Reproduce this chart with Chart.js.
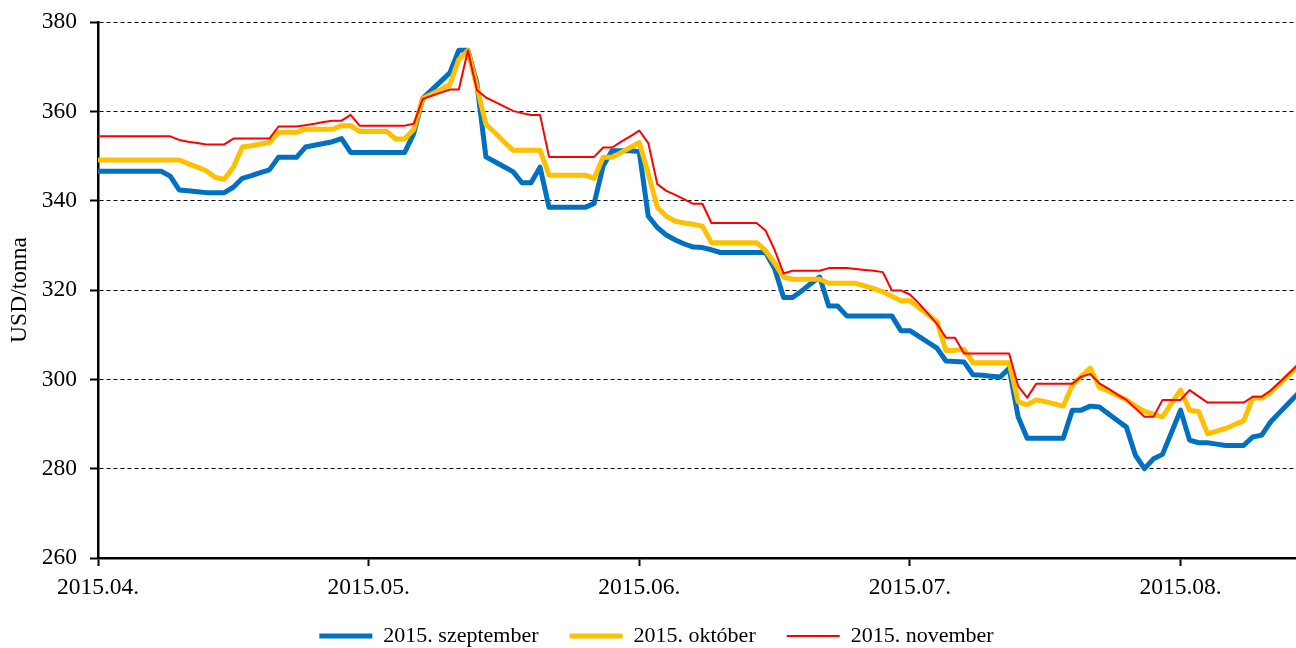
<!DOCTYPE html>
<html>
<head>
<meta charset="utf-8">
<script src="https://cdn.jsdelivr.net/npm/chart.js@4.4.1/dist/chart.umd.min.js"></script>
<style>
    html, body { margin: 0; padding: 0; background: #fff; }
    canvas { display: block; }
</style>
</head>
<body>
<canvas id="priceChart" width="1296" height="648"></canvas>
<script>
// month labels and the point index where each label sits
const monthLabels = ['2015.04.', '2015.05.', '2015.06.', '2015.07.', '2015.08.'];
const monthTicks = [0, 30, 60, 90, 120];

// USD/tonna, one value per point
const sep = [
    346.6, 346.6, 346.6, 346.6, 346.6, 346.6, 346.6, 346.6, 345.5, 342.4,
    342.2, 342.0, 341.8, 341.8, 341.8, 343.0, 345.0, 345.6, 346.3, 346.9,
    349.7, 349.7, 349.7, 352.0, 352.4, 352.8, 353.2, 353.9, 350.8, 350.8,
    350.8, 350.8, 350.8, 350.8, 350.8, 355.0, 362.9, 364.8, 366.7, 368.6,
    373.7, 373.7, 366.3, 349.8, 348.7, 347.6, 346.5, 344.0, 344.0, 347.5,
    338.5, 338.5, 338.5, 338.5, 338.5, 339.4, 347.8, 351.2, 351.2, 351.2,
    351.0, 336.5, 334.0, 332.3, 331.2, 330.3, 329.6, 329.5, 329.0, 328.4,
    328.4, 328.4, 328.4, 328.4, 328.4, 324.8, 318.3, 318.3, 319.8, 321.4,
    322.9, 316.4, 316.4, 314.2, 314.2, 314.2, 314.2, 314.2, 314.2, 310.9,
    310.9, 309.6, 308.3, 307.0, 304.1, 304.0, 303.9, 301.0, 300.9, 300.7,
    300.5, 302.5, 291.6, 286.8, 286.8, 286.8, 286.8, 286.8, 293.1, 293.1,
    294.0, 293.8, 292.3, 290.8, 289.3, 283.0, 280.0, 282.2, 283.2, 288.1,
    293.1, 286.4, 285.8, 285.8, 285.5, 285.2, 285.2, 285.2, 287.1, 287.5,
    290.5, 292.6, 294.7, 296.8
];
const okt = [
    349.1, 349.1, 349.1, 349.1, 349.1, 349.1, 349.1, 349.1, 349.1, 349.1,
    348.3, 347.5, 346.7, 345.2, 344.8, 347.5, 352.0, 352.3, 352.7, 353.0,
    355.3, 355.3, 355.3, 356.0, 356.0, 356.0, 356.0, 356.8, 356.8, 355.5,
    355.5, 355.5, 355.5, 353.8, 353.8, 356.0, 362.9, 363.9, 364.9, 366.0,
    371.6, 373.6, 365.5, 357.1, 355.2, 353.2, 351.3, 351.3, 351.3, 351.3,
    345.7, 345.7, 345.7, 345.7, 345.7, 345.0, 349.7, 349.7, 350.8, 351.9,
    353.0, 346.0, 338.5, 336.5, 335.4, 335.0, 334.7, 334.3, 330.6, 330.6,
    330.6, 330.6, 330.6, 330.6, 328.8, 326.0, 322.9, 322.4, 322.4, 322.4,
    322.4, 321.5, 321.5, 321.5, 321.5, 320.9, 320.3, 319.6, 318.6, 317.6,
    317.6, 316.0, 314.5, 312.9, 306.4, 306.5, 306.7, 303.7, 303.7, 303.7,
    303.7, 303.7, 295.0, 294.3, 295.4, 295.0, 294.5, 294.0, 298.7, 300.7,
    302.5, 298.2, 297.4, 296.4, 295.4, 294.0, 292.8, 292.2, 291.6, 294.6,
    297.6, 293.1, 292.8, 287.8, 288.4, 289.0, 289.9, 290.7, 295.8, 295.8,
    297.1, 299.0, 301.0, 303.0
];
const nov = [
    354.4, 354.4, 354.4, 354.4, 354.4, 354.4, 354.4, 354.4, 354.4, 353.6,
    353.2, 352.9, 352.6, 352.6, 352.6, 353.9, 353.9, 353.9, 353.9, 353.9,
    356.6, 356.6, 356.6, 356.9, 357.2, 357.6, 357.9, 357.9, 359.2, 356.8,
    356.8, 356.8, 356.8, 356.8, 356.8, 357.2, 362.8, 363.5, 364.2, 364.9,
    364.9, 373.6, 364.8, 363.1, 362.1, 361.1, 360.1, 359.6, 359.2, 359.2,
    349.8, 349.8, 349.8, 349.8, 349.8, 349.8, 351.9, 351.9, 353.2, 354.4,
    355.7, 352.9, 343.7, 342.2, 341.3, 340.3, 339.3, 339.3, 335.0, 335.0,
    335.0, 335.0, 335.0, 335.0, 333.3, 329.0, 323.7, 324.3, 324.3, 324.3,
    324.3, 324.9, 324.9, 324.9, 324.7, 324.5, 324.3, 324.0, 319.9, 319.9,
    319.0, 317.0, 314.7, 312.4, 309.3, 309.3, 305.8, 305.8, 305.8, 305.8,
    305.8, 305.8, 298.5, 295.9, 299.0, 299.0, 299.0, 299.0, 299.0, 300.6,
    301.2, 299.1, 297.9, 296.6, 295.4, 293.5, 291.6, 291.6, 295.4, 295.4,
    295.4, 297.6, 296.2, 294.8, 294.8, 294.8, 294.8, 294.8, 296.1, 296.1,
    297.5, 299.4, 301.3, 303.2
];

const seriesNames = ['2015. szeptember', '2015. október', '2015. november'];
const serif = '"Liberation Serif", "Times New Roman", serif';

const toPoints = (arr) => arr.map((v, i) => ({ x: i, y: v }));

document.addEventListener("DOMContentLoaded", () => {
    const ctx = document.getElementById('priceChart').getContext('2d');
    new Chart(ctx, {
        type: 'line',
        data: {
            datasets: [
                {
                    label: seriesNames[0],
                    data: toPoints(sep),
                    borderColor: '#0070C0',
                    backgroundColor: '#0070C0',
                    borderWidth: 5,
                    order: 3,
                },
                {
                    label: seriesNames[1],
                    data: toPoints(okt),
                    borderColor: '#FFC000',
                    backgroundColor: '#FFC000',
                    borderWidth: 5,
                    order: 2,
                },
                {
                    label: seriesNames[2],
                    data: toPoints(nov),
                    borderColor: '#FF0000',
                    backgroundColor: '#FF0000',
                    borderWidth: 2,
                    order: 1,
                },
            ],
        },
        options: {
            responsive: false,
            animation: false,
            devicePixelRatio: 1,
            layout: { padding: { left: 17, right: 0, top: 22, bottom: 0 } },
            elements: {
                point: { radius: 0, hoverRadius: 0 },
                line: { tension: 0, borderJoinStyle: 'round', borderCapStyle: 'round', fill: false },
            },
            plugins: {
                tooltip: { enabled: false },
                legend: {
                    position: 'bottom',
                    maxHeight: 54,
                    labels: {
                        usePointStyle: true,
                        pointStyle: 'line',
                        pointStyleWidth: 53,
                        boxWidth: 53,
                        padding: 31,
                        color: '#000',
                        font: { family: serif, size: 22 },
                        sort: (a, b) => a.datasetIndex - b.datasetIndex,
                    },
                },
            },
            scales: {
                x: {
                    type: 'linear',
                    min: 0,
                    max: 132.8,
                    afterBuildTicks: (scale) => {
                        scale.ticks = monthTicks.map(v => ({ value: v }));
                    },
                    afterFit: (scale) => { scale.height = 36; },
                    ticks: {
                        autoSkip: false,
                        maxRotation: 0,
                        padding: 8,
                        color: '#000',
                        font: { family: serif, size: 23.5 },
                        callback: (value) => monthLabels[monthTicks.indexOf(value)],
                    },
                    grid: {
                        drawOnChartArea: false,
                        drawTicks: true,
                        tickLength: 8,
                        tickColor: '#000',
                        tickWidth: 2,
                    },
                    border: { display: true, color: '#000', width: 2.5 },
                },
                y: {
                    min: 260,
                    max: 380,
                    afterFit: (scale) => {
                        scale.width = 81;
                        scale.paddingTop = 0;
                    },
                    ticks: {
                        stepSize: 20,
                        padding: 13,
                        color: '#000',
                        font: { family: serif, size: 23.5 },
                    },
                    grid: {
                        color: '#000',
                        lineWidth: 1,
                        tickLength: 8,
                        tickColor: '#000',
                        tickWidth: 2,
                        tickBorderDash: [],
                    },
                    border: { display: true, color: '#000', width: 2.5, dash: [4, 3] },
                    title: {
                        display: true,
                        text: 'USD/tonna',
                        color: '#000',
                        font: { family: serif, size: 23.5 },
                        padding: { top: -11, bottom: 0 },
                    },
                },
            },
        },
    });
});
</script>
</body>
</html>
